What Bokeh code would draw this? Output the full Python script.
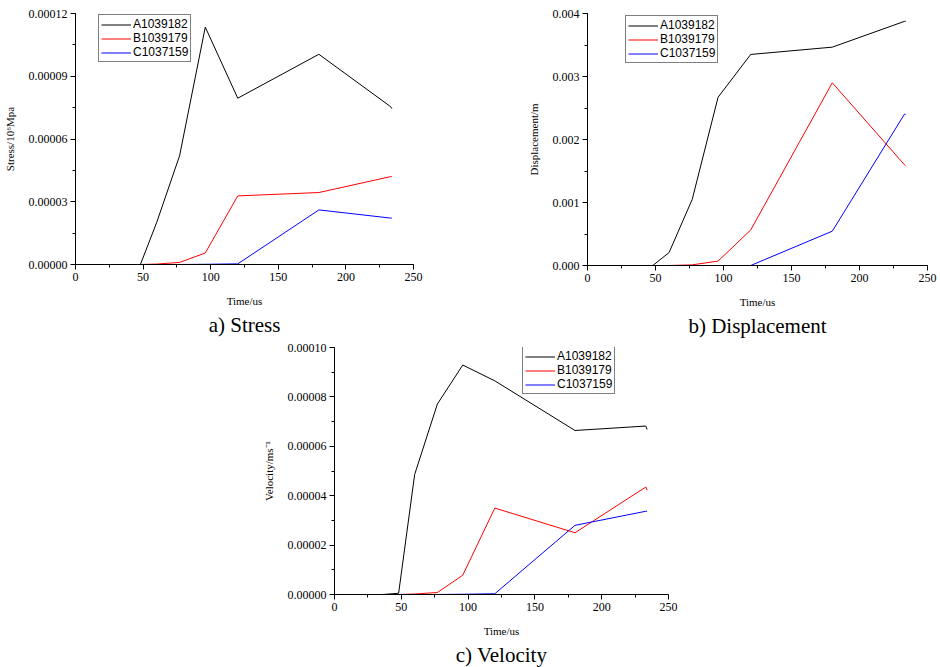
from bokeh.plotting import figure
from bokeh.layouts import column, row
from bokeh.models import (Range1d, SingleIntervalTicker, PrintfTickFormatter,
                          Legend, LegendItem, Title)
from bokeh.embed import file_html
from bokeh.resources import INLINE

# Sampling times (us)
time_us = [0, 12, 24, 36, 48, 60, 77, 96, 120, 180, 233, 234]
series_names = ["A1039182", "B1039179", "C1037159"]
series_colors = ["#000000", "#ff0000", "#0000ff"]

# Stress (10^6 MPa)
stress_a = [0, 0, 0, 0, 0, 2.0e-5, 5.2e-5, 1.135e-4, 7.95e-5, 1.005e-4, 7.55e-5, 7.45e-5]
stress_b = [0, 0, 0, 0, 0, 2e-7, 1e-6, 5.5e-6, 3.28e-5, 3.44e-5, 4.2e-5, 4.2e-5]
stress_c = [0, 0, 0, 0, 0, 0, 0, 1e-7, 3e-7, 2.61e-5, 2.22e-5, 2.22e-5]

# Displacement (m)
disp_a = [0, 0, 0, 0, 0, 0.000206, 0.00105, 0.00267, 0.00335, 0.003466, 0.003875, 0.003878]
disp_b = [0, 0, 0, 0, 0, 0, 0.00001, 0.00007, 0.000563, 0.0029, 0.0016, 0.00158]
disp_c = [0, 0, 0, 0, 0, 0, 0, 0, 0, 0.000545, 0.0024, 0.0024]

# Velocity (m/s)
vel_a = [0, 0, 0, 0, 5e-7, 4.86e-5, 7.71e-5, 9.29e-5, 8.65e-5, 6.64e-5, 6.82e-5, 6.68e-5]
vel_b = [0, 0, 0, 0, 0, 2e-7, 8e-7, 7.8e-6, 3.5e-5, 2.5e-5, 4.35e-5, 4.22e-5]
vel_c = [0, 0, 0, 0, 0, 0, 0, 1e-7, 3e-7, 2.8e-5, 3.37e-5, 3.37e-5]

SERIF = "Liberation Serif"
SANS = "Liberation Sans"


def make_panel(series, y_max, y_step, y_fmt, y_label, caption, caption_offset,
               frame_w, frame_h, borders, legend_xy):
    left, right, top, bottom = borders
    p = figure(frame_width=frame_w, frame_height=frame_h,
               min_border_left=left, min_border_right=right,
               min_border_top=top, min_border_bottom=bottom,
               x_range=Range1d(0, 250), y_range=Range1d(0, y_max),
               output_backend="svg", toolbar_location=None,
               background_fill_color="white", border_fill_color="white")
    p.outline_line_color = None
    p.xgrid.visible = False
    p.ygrid.visible = False

    p.xaxis.ticker = SingleIntervalTicker(interval=50, num_minor_ticks=2)
    p.yaxis.ticker = SingleIntervalTicker(interval=y_step, num_minor_ticks=2)
    p.yaxis.formatter = PrintfTickFormatter(format=y_fmt)
    p.xaxis.axis_label = "Time/us"
    p.yaxis.axis_label = y_label
    for ax in (p.xaxis, p.yaxis):
        ax.axis_line_color = "black"
        ax.axis_line_width = 1
        ax.major_tick_line_color = "black"
        ax.minor_tick_line_color = "black"
        ax.major_tick_out = 5
        ax.major_tick_in = 0
        ax.minor_tick_out = 3
        ax.minor_tick_in = 0
        ax.major_label_text_font = SERIF
        ax.major_label_text_font_size = "12px"
        ax.major_label_text_color = "black"
        ax.axis_label_text_font = SERIF
        ax.axis_label_text_font_size = "11px"
        ax.axis_label_text_font_style = "normal"
        ax.axis_label_text_color = "black"
    p.xaxis.major_label_standoff = 3
    p.yaxis.major_label_standoff = 3
    p.xaxis.axis_label_standoff = 11
    p.yaxis.axis_label_standoff = 10

    items = []
    for name, color, ys in zip(series_names, series_colors, series):
        r = p.line(time_us, ys, line_color=color, line_width=1)
        items.append(LegendItem(label=name, renderers=[r]))

    legend = Legend(items=items, location=legend_xy,
                    border_line_color="black", border_line_width=1,
                    background_fill_color="white", background_fill_alpha=1,
                    label_text_font=SANS, label_text_font_size="12px",
                    label_text_color="black",
                    glyph_width=30, glyph_height=13, label_height=13,
                    label_standoff=2, spacing=0, padding=2, margin=0)
    p.add_layout(legend)

    cap = Title(text=caption, align="center", offset=caption_offset,
                text_font=SERIF, text_font_size="21px", text_font_style="normal",
                text_color="black", standoff=2)
    p.add_layout(cap, "below")
    return p


stress = make_panel([stress_a, stress_b, stress_c], 0.00012, 0.00003, "%.5f",
                    "Stress/10\u2076Mpa", "a) Stress", -30,
                    338, 251, (75, 57, 13, 76), (23, 202))
disp = make_panel([disp_a, disp_b, disp_c], 0.004, 0.001, "%.3f",
                  "Displacement/m", "b) Displacement", -31,
                  340, 252, (117, 13, 13, 75), (38, 202))
vel = make_panel([vel_a, vel_b, vel_c], 0.0001, 0.00002, "%.5f",
                 "Velocity/ms\u207b\u00b9", "c) Velocity", 0,
                 334, 247, (334, 272, 7, 73), (188, 200))

layout = column(row(stress, disp, spacing=0), vel, spacing=0)
open("out.html", "w").write(file_html(layout, INLINE))
